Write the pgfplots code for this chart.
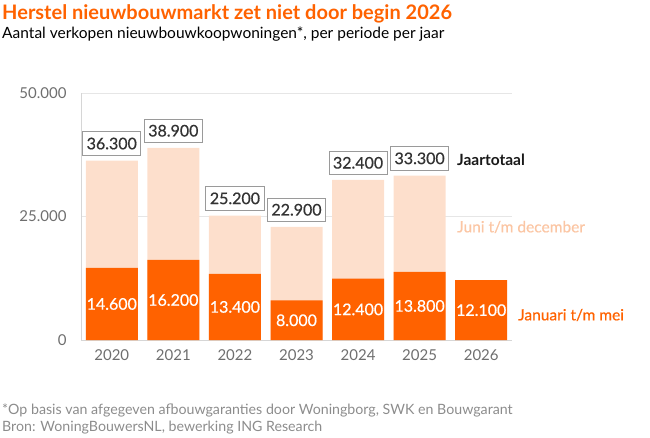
\documentclass[border=0pt]{standalone}
\usepackage{pgfplots}
\pgfplotsset{compat=1.18}
\usepackage{fontspec}
\setmainfont{Lato}
\newfontfamily\medfont[FakeBold=0.6]{Lato}

\definecolor{ingorange}{HTML}{FF6200}
\definecolor{peach}{HTML}{FDDFCC}
\definecolor{peachtext}{HTML}{FBC6A4}
\definecolor{gridgray}{HTML}{E6E6E6}
\definecolor{axisgray}{HTML}{D6D6D6}
\definecolor{tickgray}{HTML}{6E6E6E}
\definecolor{boxgray}{HTML}{9A9A9A}
\definecolor{boxtext}{HTML}{333333}
\definecolor{notegray}{HTML}{8C8C8C}

\begin{document}
\begin{tikzpicture}
\useasboundingbox (0pt,0pt) rectangle (650pt,437pt);

% title and subtitle
\node[anchor=west, inner sep=0, text=ingorange,
      font=\bfseries\fontsize{20}{24}\selectfont] at (2pt,423pt) {Herstel nieuwbouwmarkt zet niet door begin 2026};
\node[anchor=west, inner sep=0, text=black,
      font=\fontsize{15.5}{18}\selectfont] at (2pt,403pt) {Aantal verkopen nieuwbouwkoopwoningen*, per periode per jaar};

\begin{axis}[
  at={(81pt,97pt)}, anchor=south west,
  scale only axis, width=431pt, height=247pt,
  xmin=-0.5, xmax=6.5, ymin=0, ymax=50000,
  axis lines=left,
  axis line style={draw=axisgray, line width=0.8pt, -},
  xtick={0,1,2,3,4,5,6},
  xticklabels={2020,2021,2022,2023,2024,2025,2026},
  ytick={0,25000,50000},
  yticklabels={0,25.000,50.000},
  scaled y ticks=false,
  major tick length=0pt,
  ymajorgrids,
  grid style={draw=gridgray, line width=0.8pt},
  tick label style={font=\fontsize{15}{18}\selectfont, text=tickgray},
  yticklabel style={xshift=-11pt},
  xticklabel style={yshift=-6pt},
  clip=false,
  /pgf/number format/.cd, fixed, precision=0, 1000 sep={.}, assume math mode=true,
]

% full-year totals (peach bars carry the boxed totals)
\addplot[ybar, bar width=52pt, bar shift=0pt, fill=peach, draw=none,
  nodes near coords,
  nodes near coords style={anchor=south, yshift=5pt, draw=boxgray, fill=white,
    line width=0.8pt, text=boxtext, inner xsep=4pt, inner ysep=6pt,
    text height=11.5pt, text depth=0pt,
    font=\medfont\fontsize{16}{18}\selectfont}]
  coordinates {(0,36300) (1,38900) (2,25200) (3,22900) (4,32400) (5,33300)};

% January to May
\addplot[ybar, bar width=52pt, bar shift=0pt, fill=ingorange, draw=none]
  coordinates {(0,14600) (1,16200) (2,13400) (3,8000) (4,12400) (5,13800) (6,12100)};

% value labels centred in the January-May bars
\addplot[draw=none, mark=none, y filter/.expression={y/2}, point meta=rawy,
  nodes near coords,
  nodes near coords style={anchor=center, text=white,
    text height=11.5pt, text depth=0pt,
    font=\medfont\fontsize{16}{18}\selectfont}]
  coordinates {(0,14600) (1,16200) (2,13400) (3,8000) (4,12400) (5,13800) (6,12100)};
\end{axis}

% series labels
\node[anchor=west, inner sep=0, font=\bfseries\fontsize{15.5}{18}\selectfont, text=black!90] at (457pt,277pt) {Jaartotaal};
\node[anchor=west, inner sep=0, font=\medfont\fontsize{15.5}{18}\selectfont, text=peachtext] at (457pt,210pt) {Juni t/m december};
\node[anchor=west, inner sep=0, font=\medfont\fontsize{15.5}{18}\selectfont, text=ingorange] at (518pt,122pt) {Januari t/m mei};

% notes
\node[anchor=west, inner sep=0, font=\fontsize{14.2}{16}\selectfont, text=notegray] at (2pt,27pt) {*Op basis van afgegeven afbouwgaranties door Woningborg, SWK en Bouwgarant};
\node[anchor=west, inner sep=0, font=\fontsize{14.2}{16}\selectfont, text=notegray] at (2pt,9pt) {Bron: WoningBouwersNL, bewerking ING Research};
\end{tikzpicture}
\end{document}
